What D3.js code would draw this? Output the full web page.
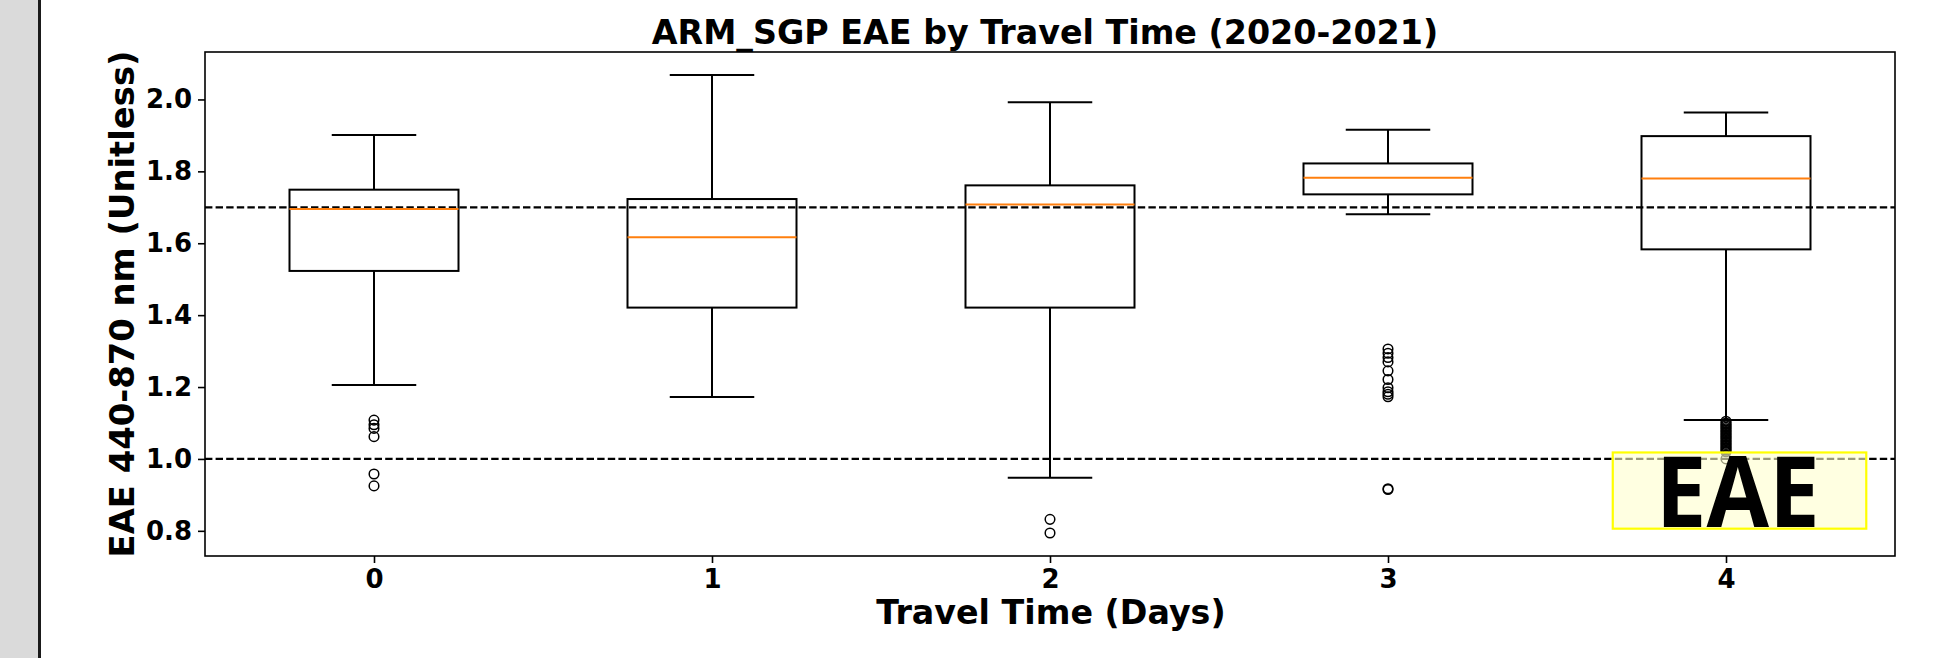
<!DOCTYPE html>
<html>
<head>
<meta charset="utf-8">
<script src="https://cdn.jsdelivr.net/npm/d3@7"></script>
<style>
  body { margin: 0; background: #fff; }
  svg { display: block; }
  text { font-family: 'DejaVu Sans', sans-serif; font-weight: bold; }
</style>
</head>
<body>
<script>
// travel time categories (days)
const days = [0, 1, 2, 3, 4]

// box statistics
const whiskerLow  = [1.206, 1.172, 0.948, 1.681, 1.108]
const quartile1   = [1.523, 1.421, 1.421, 1.736, 1.583]
const medians     = [1.695, 1.617, 1.708, 1.782, 1.780]
const quartile3   = [1.749, 1.723, 1.761, 1.822, 1.898]
const whiskerHigh = [1.901, 2.068, 1.992, 1.916, 1.964]

const outliers = [
  [1.108, 1.095, 1.085, 1.062, 0.958, 0.925],
  [],
  [0.832, 0.794],
  [1.306, 1.294, 1.282, 1.270, 1.245, 1.221, 1.198, 1.187, 1.180, 1.173, 0.917, 0.915],
  [1.105, 1.100, 1.096, 1.092, 1.088, 1.084, 1.080, 1.076, 1.072, 1.068, 1.064, 1.060,
   1.056, 1.052, 1.048, 1.044, 1.040, 1.036, 1.032, 1.028, 1.024, 1.020, 1.000]
]

const yTicks = [0.8, 1.0, 1.2, 1.4, 1.6, 1.8, 2.0]
const refLines = [1.7, 1.0]

const config = {
  width: 1953,
  height: 658,
  left: 205,
  right: 1895,
  top: 52,
  bottom: 556,
  boxWidth: 0.5,
  capWidth: 0.25,
  tickLen: 7,
  stroke: 2
}

const svg = d3.select('body')
  .append('svg')
  .attr('width', config.width)
  .attr('height', config.height)

// grey strip on the left
svg.append('rect').attr('x', 0).attr('y', 0).attr('width', 38).attr('height', config.height).attr('fill', '#dadada')
svg.append('rect').attr('x', 38).attr('y', 0).attr('width', 3).attr('height', config.height).attr('fill', '#1a1a1a')

const x = d3.scaleLinear().domain([-0.5, 4.5]).range([config.left, config.right])
const y = d3.scaleLinear().domain([0.730, 2.132]).range([config.bottom, config.top])

const stats = days.map((d, i) => ({
  day: d, lo: whiskerLow[i], q1: quartile1[i], med: medians[i], q3: quartile3[i], hi: whiskerHigh[i], out: outliers[i]
}))

// axes
const xAxis = d3.axisBottom(x).tickValues(days).tickSize(config.tickLen).tickPadding(7).tickFormat(d3.format('d'))
const yAxis = d3.axisLeft(y).tickValues(yTicks).tickSize(config.tickLen).tickPadding(6).tickFormat(d3.format('.1f'))

const gx = svg.append('g').attr('transform', `translate(0,${config.bottom})`).call(xAxis)
const gy = svg.append('g').attr('transform', `translate(${config.left},0)`).call(yAxis)
;[gx, gy].forEach(g => {
  g.select('.domain').remove()
  g.selectAll('.tick line').attr('stroke', '#000').attr('stroke-width', 1.6)
  g.selectAll('.tick text').attr('fill', '#000').style('font-size', '26px').style('font-family', 'DejaVu Sans').style('font-weight', 'bold')
})

// reference lines
svg.selectAll('.ref')
  .data(refLines).enter().append('line')
  .attr('x1', config.left).attr('x2', config.right)
  .attr('y1', d => y(d)).attr('y2', d => y(d))
  .attr('stroke', '#000').attr('stroke-width', 2.2)
  .attr('stroke-dasharray', '7.4,3.2')

const boxes = svg.selectAll('.box').data(stats).enter().append('g')

// whiskers
boxes.append('line')
  .attr('x1', d => x(d.day)).attr('x2', d => x(d.day))
  .attr('y1', d => y(d.hi)).attr('y2', d => y(d.q3))
  .attr('stroke', '#000').attr('stroke-width', config.stroke)
boxes.append('line')
  .attr('x1', d => x(d.day)).attr('x2', d => x(d.day))
  .attr('y1', d => y(d.q1)).attr('y2', d => y(d.lo))
  .attr('stroke', '#000').attr('stroke-width', config.stroke)

// caps
;['hi', 'lo'].forEach(k => {
  boxes.append('line')
    .attr('x1', d => x(d.day - config.capWidth / 2)).attr('x2', d => x(d.day + config.capWidth / 2))
    .attr('y1', d => y(d[k])).attr('y2', d => y(d[k]))
    .attr('stroke', '#000').attr('stroke-width', config.stroke)
})

// boxes
boxes.append('rect')
  .attr('x', d => x(d.day - config.boxWidth / 2))
  .attr('width', d => x(d.day + config.boxWidth / 2) - x(d.day - config.boxWidth / 2))
  .attr('y', d => y(d.q3))
  .attr('height', d => y(d.q1) - y(d.q3))
  .attr('fill', 'none').attr('stroke', '#000').attr('stroke-width', config.stroke)

// medians
boxes.append('line')
  .attr('x1', d => x(d.day - config.boxWidth / 2)).attr('x2', d => x(d.day + config.boxWidth / 2))
  .attr('y1', d => y(d.med)).attr('y2', d => y(d.med))
  .attr('stroke', '#ff7f0e').attr('stroke-width', config.stroke)

// fliers
boxes.selectAll('circle')
  .data(d => d.out.map(v => ({ day: d.day, v: v })))
  .enter().append('circle')
  .attr('cx', d => x(d.day)).attr('cy', d => y(d.v))
  .attr('r', 4.8)
  .attr('fill', 'none').attr('stroke', '#000').attr('stroke-width', 1.5)

// frame
svg.append('rect')
  .attr('x', config.left).attr('y', config.top)
  .attr('width', config.right - config.left).attr('height', config.bottom - config.top)
  .attr('fill', 'none').attr('stroke', '#000').attr('stroke-width', 1.6)

// EAE badge
svg.append('rect')
  .attr('x', x(3.665)).attr('y', y(1.018))
  .attr('width', x(4.415) - x(3.665)).attr('height', y(0.806) - y(1.018))
  .attr('fill', 'rgba(255,255,205,0.6)')
  .attr('stroke', '#ffff00').attr('stroke-width', 2.2)
svg.append('text')
  .attr('x', x(4.035)).attr('y', y(0.810))
  .attr('text-anchor', 'middle')
  .attr('textLength', 164)
  .attr('lengthAdjust', 'spacingAndGlyphs')
  .style('font-family', "'Open Sans', sans-serif")
  .style('font-weight', 'bold')
  .style('font-size', '98px')
  .attr('fill', '#000')
  .text('EAE')

// titles
svg.append('text')
  .text('ARM_SGP EAE by Travel Time (2020-2021)')
  .attr('x', (config.left + config.right) / 2 - 5)
  .attr('y', 44)
  .attr('text-anchor', 'middle')
  .style('font-size', '33.3px')

svg.append('text')
  .text('Travel Time (Days)')
  .attr('x', (config.left + config.right) / 2 + 1)
  .attr('y', 624)
  .attr('text-anchor', 'middle')
  .style('font-size', '33.3px')

svg.append('text')
  .text('EAE 440-870 nm (Unitless)')
  .attr('transform', `translate(134, ${(config.top + config.bottom) / 2}) rotate(-90)`)
  .attr('text-anchor', 'middle')
  .style('font-size', '33.8px')
</script>
</body>
</html>
